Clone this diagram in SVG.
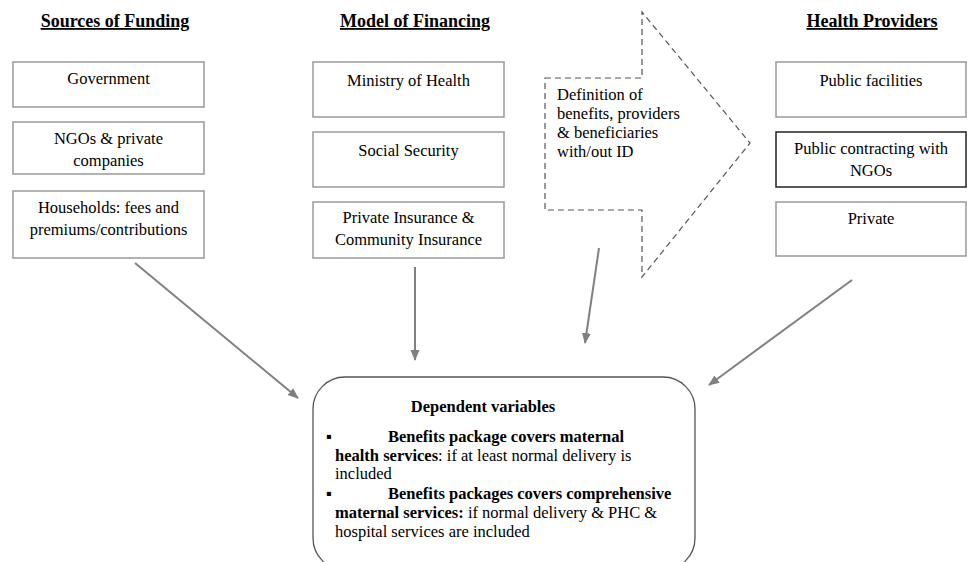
<svg xmlns="http://www.w3.org/2000/svg" width="967" height="562" viewBox="0 0 967 562">
<defs>
<style>
text{font-family:"Liberation Serif","Times New Roman",serif;fill:#000;}
.title{font-size:18px;font-weight:bold;text-decoration:underline;text-anchor:middle;}
.lbl{font-size:16.5px;text-anchor:middle;}
.box{fill:#fff;stroke:#999;stroke-width:1.5;}
.dark{fill:#fff;stroke:#222;stroke-width:1.5;}
.conn{stroke:#808080;stroke-width:2;fill:none;marker-end:url(#ah);}
.dv{font-size:16.5px;}
.b{font-weight:bold;}
</style>
<marker id="ah" markerUnits="userSpaceOnUse" markerWidth="11" markerHeight="10" refX="10" refY="4.5" orient="auto">
<path d="M0,0 L11,4.5 L0,9 z" fill="#808080"/>
</marker>
</defs>
<rect width="967" height="562" fill="#fff"/>

<text class="title" x="115" y="27">Sources of Funding</text>
<text class="title" x="415" y="27">Model of Financing</text>
<text class="title" x="872" y="27">Health Providers</text>

<g id="gov"><rect class="box" x="13" y="62" width="191" height="45"/><text class="lbl" x="108.5" y="84">Government</text></g>
<g id="ngos"><rect class="box" x="13" y="122" width="191" height="52"/><text class="lbl" x="108.5" y="144">NGOs &amp; private</text><text class="lbl" x="108.5" y="166">companies</text></g>
<g id="households"><rect class="box" x="13" y="191" width="191" height="67"/><text class="lbl" x="108.5" y="213">Households: fees and</text><text class="lbl" x="108.5" y="235">premiums/contributions</text></g>

<g id="moh"><rect class="box" x="313" y="62" width="191" height="55"/><text class="lbl" x="408.5" y="86">Ministry of Health</text></g>
<g id="ss"><rect class="box" x="313" y="132" width="191" height="55"/><text class="lbl" x="408.5" y="156">Social Security</text></g>
<g id="pi"><rect class="box" x="313" y="202" width="191" height="56"/><text class="lbl" x="408.5" y="223">Private Insurance &amp;</text><text class="lbl" x="408.5" y="245">Community Insurance</text></g>

<g id="definition">
<polygon points="545,78 642,78 642,12 750,143 642,277 642,210 545,210" fill="none" stroke="#555" stroke-width="1.2" stroke-dasharray="6,4"/>
<text font-size="16.5" x="557" y="100">Definition of</text>
<text font-size="16.5" x="557" y="119">benefits, providers</text>
<text font-size="16.5" x="557" y="138">&amp; beneficiaries</text>
<text font-size="16.5" x="557" y="157">with/out ID</text>
</g>

<g id="pubfac"><rect class="box" x="776" y="62" width="190" height="55"/><text class="lbl" x="871" y="86">Public facilities</text></g>
<g id="pubcon"><rect class="dark" x="776" y="132" width="190" height="55"/><text class="lbl" x="871" y="154">Public contracting with</text><text class="lbl" x="871" y="176">NGOs</text></g>
<g id="private"><rect class="box" x="776" y="202" width="190" height="54"/><text class="lbl" x="871" y="224">Private</text></g>

<g id="dependent">
<rect x="313" y="377" width="382" height="193" rx="32" ry="32" fill="#fff" stroke="#555" stroke-width="1.3"/>
<text class="dv b" x="483" y="412" text-anchor="middle">Dependent variables</text>
<text class="dv" x="326" y="442">▪</text>
<text class="dv b" x="388" y="442">Benefits package covers maternal</text>
<text class="dv" x="335" y="461"><tspan class="b">health services</tspan>: if at least normal delivery is</text>
<text class="dv" x="335" y="479">included</text>
<text class="dv" x="326" y="499">▪</text>
<text class="dv b" x="388" y="499">Benefits packages covers comprehensive</text>
<text class="dv" x="335" y="518"><tspan class="b">maternal services:</tspan> if normal delivery &amp; PHC &amp;</text>
<text class="dv" x="335" y="537">hospital services are included</text>
</g>

<g id="connectors">
<line class="conn" x1="135" y1="263" x2="298" y2="398"/>
<line class="conn" x1="415" y1="267" x2="415" y2="360"/>
<line class="conn" x1="599" y1="248" x2="585" y2="343"/>
<line class="conn" x1="852" y1="280" x2="709" y2="385"/>
</g>
</svg>
